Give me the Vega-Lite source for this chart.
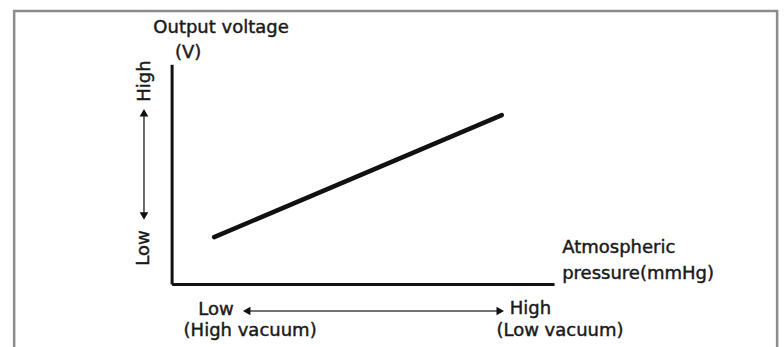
{
  "$schema": "https://vega.github.io/schema/vega-lite/v6.json",
  "width": 784,
  "height": 347,
  "autosize": {"type": "fit", "contains": "padding"},
  "padding": 0,
  "background": "white",
  "config": {"view": {"stroke": null}, "text": {"font": "DejaVu Sans", "fontSize": 18, "color": "#1a1a1a", "stroke": "#1a1a1a", "strokeWidth": 0.45}},
  "datasets": {
    "frame": [{"p": -41.3, "v": 124.5, "p2": 158.2, "v2": -40}],
    "axes": [
      {"p": 0, "v": 0, "p2": 0, "v2": 100},
      {"p": 0, "v": 0, "p2": 100, "v2": 0}
    ],
    "curve": [
      {"p": 11, "v": 21.5},
      {"p": 86.2, "v": 77.1}
    ],
    "shafts": [
      {"p": -7.35, "v": 78, "p2": -7.35, "v2": 31},
      {"p": 19.5, "v": -12.1, "p2": 86, "v2": -12.1}
    ],
    "heads": [
      {"p": -7.35, "v": 78.2, "dir": "up"},
      {"p": -7.35, "v": 31.2, "dir": "down"},
      {"p": 19.5, "v": -12.1, "dir": "left"},
      {"p": 85.8, "v": -12.1, "dir": "right"}
    ],
    "centerText": [
      {"p": 12.8, "v": 116.8, "label": "Output voltage"},
      {"p": 4.2, "v": 105.4, "label": "(V)"},
      {"p": 11.5, "v": -11.6, "label": "Low"},
      {"p": 20.4, "v": -21.0, "label": "(High vacuum)"}
    ],
    "leftText": [
      {"p": 88.3, "v": -11.4, "label": "High"},
      {"p": 84.8, "v": -21.0, "label": "(Low vacuum)"},
      {"p": 102, "v": 16.6, "label": "Atmospheric"},
      {"p": 102, "v": 4.7, "label": "pressure(mmHg)"}
    ],
    "rotText": [
      {"p": -7.2, "v": 92.6, "label": "High"},
      {"p": -7.35, "v": 16.6, "label": "Low"}
    ]
  },
  "encoding": {
    "x": {"field": "p", "type": "quantitative", "scale": {"domain": [-45, 160], "nice": false, "zero": false}, "axis": null},
    "y": {"field": "v", "type": "quantitative", "scale": {"domain": [-28.5, 129.5], "nice": false, "zero": false}, "axis": null}
  },
  "layer": [
    {
      "data": {"name": "frame"},
      "mark": {"type": "rect", "fill": null, "fillOpacity": 0, "stroke": "#8c8c8c", "strokeWidth": 2.5, "clip": true},
      "encoding": {"x2": {"field": "p2"}, "y2": {"field": "v2"}}
    },
    {
      "data": {"name": "axes"},
      "mark": {"type": "rule", "color": "#111", "strokeWidth": 3},
      "encoding": {"x2": {"field": "p2"}, "y2": {"field": "v2"}}
    },
    {
      "data": {"name": "curve"},
      "mark": {"type": "line", "color": "#111", "strokeWidth": 4.5, "strokeCap": "round"},
      "encoding": {}
    },
    {
      "data": {"name": "shafts"},
      "mark": {"type": "rule", "color": "#444", "strokeWidth": 1.6},
      "encoding": {"x2": {"field": "p2"}, "y2": {"field": "v2"}}
    },
    {
      "data": {"name": "heads"},
      "mark": {"type": "point", "filled": true, "color": "#111", "size": 75, "opacity": 1},
      "encoding": {
        "shape": {"field": "dir", "type": "nominal", "scale": {"domain": ["up", "down", "left", "right"], "range": ["triangle-up", "triangle-down", "triangle-left", "triangle-right"]}, "legend": null}
      }
    },
    {
      "data": {"name": "centerText"},
      "mark": {"type": "text", "align": "center", "baseline": "middle"},
      "encoding": {"text": {"field": "label"}}
    },
    {
      "data": {"name": "leftText"},
      "mark": {"type": "text", "align": "left", "baseline": "middle"},
      "encoding": {"text": {"field": "label"}}
    },
    {
      "data": {"name": "rotText"},
      "mark": {"type": "text", "align": "center", "baseline": "middle", "angle": 270},
      "encoding": {"text": {"field": "label"}}
    }
  ]
}
